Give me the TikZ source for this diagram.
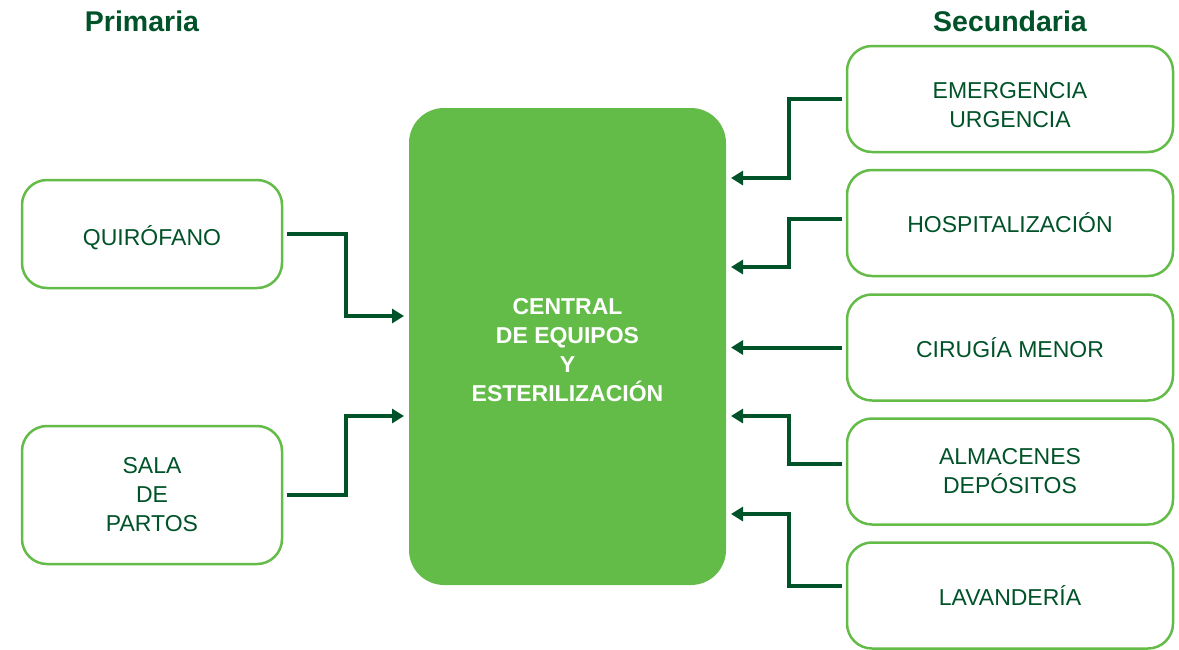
\documentclass[tikz,border=0pt]{standalone}
\usepackage{fontspec}
\setmainfont{Liberation Sans}
\usetikzlibrary{arrows.meta}
\definecolor{darkgreen}{RGB}{0,82,40}
\definecolor{lightgreen}{RGB}{100,188,72}
\newcommand{\alto}[1]{\rule{0pt}{#1}}

\tikzset{
  area/.style={draw=lightgreen, line width=2.5pt, rounded corners=25pt, text=darkgreen,
    align=center, font=\fontsize{23}{29}\selectfont, outer sep=5pt},
  central/.style={fill=lightgreen, rounded corners=35pt, text=white, align=center,
    font=\bfseries\fontsize{23}{29}\selectfont, minimum width=317pt, minimum height=477pt, outer sep=5pt},
  titulo/.style={text=darkgreen, font=\bfseries\fontsize{28.5}{32}\selectfont},
  flow/.style={draw=darkgreen, line width=4pt, -{Triangle[length=12pt,width=14pt]}},
}

\begin{document}
\begin{tikzpicture}[x=1pt, y=-1pt]
    \useasboundingbox (0,0) rectangle (1179,649);

    % titles
    \node[titulo] (prim) at (142,21) {Primaria};
    \node[titulo] (sec) at (1010,21) {Secundaria};

    % central area
    \node[central] (ceye) at (567.5,346.5) {\alto{22.5pt}CENTRAL\\DE EQUIPOS\\Y\\ESTERILIZACIÓN};

    % primary areas
    \node[area, minimum width=260pt, minimum height=108pt] (quir) at (152,234) {\alto{27.4pt}QUIRÓFANO};
    \node[area, minimum width=260pt, minimum height=138pt] (sala) at (152,495) {SALA\\DE\\PARTOS};

    % secondary areas
    \node[area, minimum width=326pt, minimum height=106pt] (emer) at (1010,99) {\alto{28.5pt}EMERGENCIA\\URGENCIA};
    \node[area, minimum width=326pt, minimum height=106pt] (hosp) at (1010,223) {HOSPITALIZACIÓN};
    \node[area, minimum width=326pt, minimum height=106pt] (ciru) at (1010,347.5) {CIRUGÍA MENOR};
    \node[area, minimum width=326pt, minimum height=106pt] (alma) at (1010,471.5) {ALMACENES\\DEPÓSITOS};
    \node[area, minimum width=326pt, minimum height=106pt] (lava) at (1010,595.5) {LAVANDERÍA};

    % flows into the central
    \draw[flow] (quir.east) -- ++(59,0) |- ([yshift=30.5pt]ceye.west);
    \draw[flow] (sala.east) -- ++(59,0) |- ([yshift=-69.5pt]ceye.west);
    \draw[flow] (emer.west) -- ++(-53,0) |- ([yshift=168.5pt]ceye.east);
    \draw[flow] ([yshift=4pt]hosp.west) -- ++(-53,0) |- ([yshift=79.5pt]ceye.east);
    \draw[flow] (ciru.west) -- (ciru.west -| ceye.east);
    \draw[flow] ([yshift=7.5pt]alma.west) -- ++(-53,0) |- ([yshift=-69.5pt]ceye.east);
    \draw[flow] ([yshift=9.5pt]lava.west) -- ++(-53,0) |- ([yshift=-167.5pt]ceye.east);
\end{tikzpicture}
\end{document}
